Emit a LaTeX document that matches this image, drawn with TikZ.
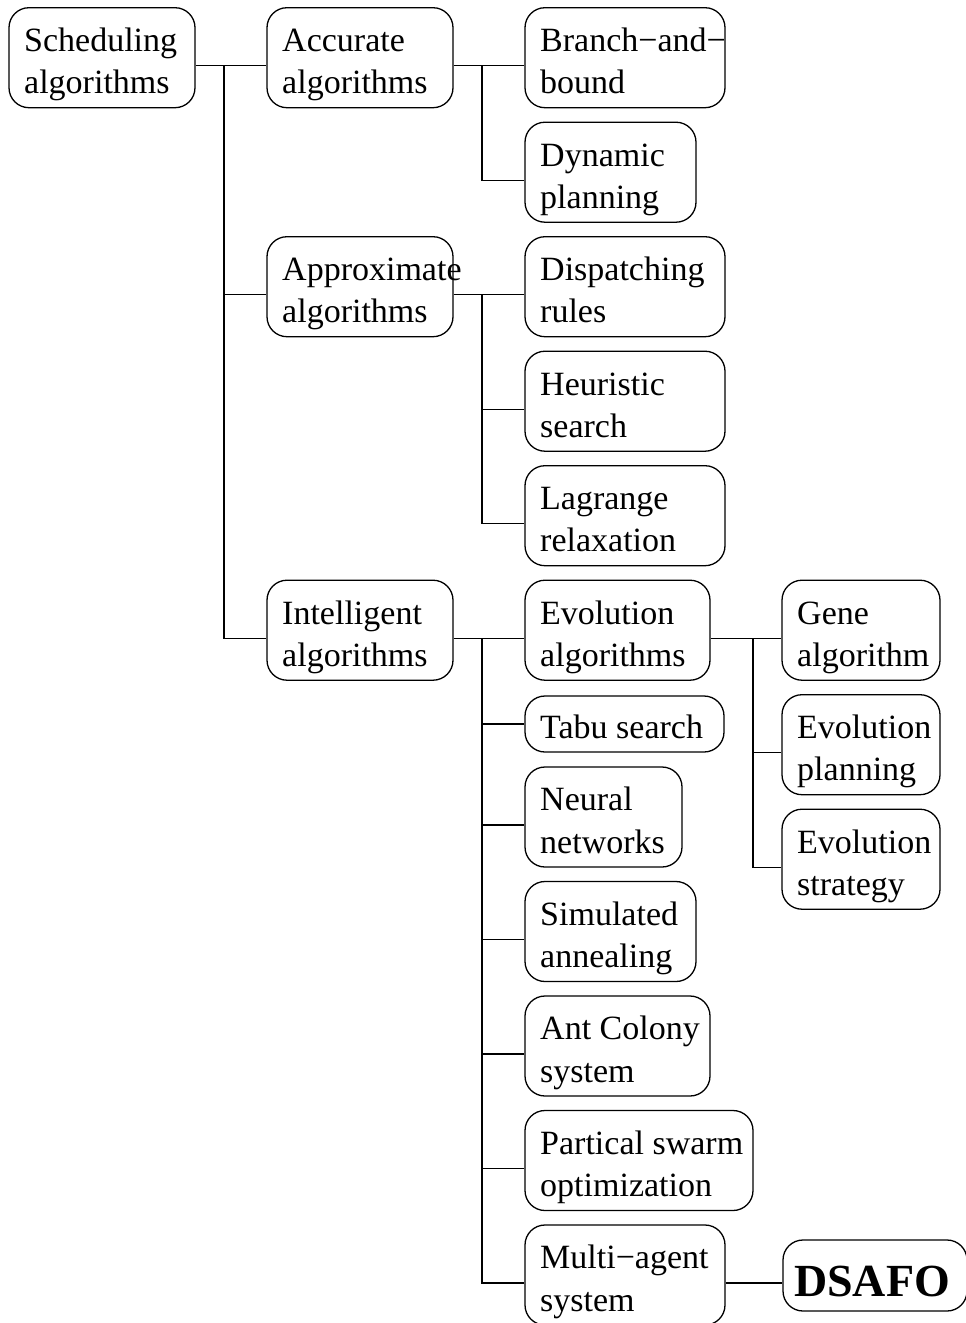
\documentclass[tikz,border=0pt]{standalone}
\usepackage{fontspec}
\setmainfont{Liberation Serif}
\usetikzlibrary{calc}
% strut for the two-line labels: lines sit 42.4pt apart
\newcommand\lstrut{\rule[-14.2pt]{0pt}{42.4pt}}
\begin{document}
\begin{tikzpicture}[x=1pt,y=-1pt,
  box/.style={draw, line width=1.3pt, rounded corners=20pt, inner sep=0pt, minimum height=100pt},
  lbl/.style={anchor=west, align=left, inner sep=0pt, font=\fontsize{34}{42.4}\selectfont},
  link/.style={line width=1.3pt},
]
\useasboundingbox (0,0) rectangle (966,1323);

% trunk positions of the three branching levels
\coordinate (trunkA) at (224,0);
\coordinate (trunkB) at (482,0);
\coordinate (trunkC) at (753,0);

% level 0
\node[box, minimum width=186pt] (sched) at (102,57.7) {};
\node[lbl] (schedT) at (24,65.7) {\lstrut Scheduling\\\lstrut algorithms};

% level 1
\node[box, minimum width=186pt] (acc) at (360,57.7) {};
\node[lbl] (accT) at (282,65.7) {\lstrut Accurate\\\lstrut algorithms};
\node[box, minimum width=186pt] (approx) at (360,286.7) {};
\node[lbl] (approxT) at (282,294.7) {\lstrut Approximate\\\lstrut algorithms};
\node[box, minimum width=186pt] (intel) at (360,630.2) {};
\node[lbl] (intelT) at (282,638.2) {\lstrut Intelligent\\\lstrut algorithms};

% level 2: accurate
\node[box, minimum width=200pt] (bnb) at (625,57.7) {};
\node[lbl] (bnbT) at (540,65.7) {\lstrut Branch−and−\\\lstrut bound};
\node[box, minimum width=171pt] (dyn) at (610.5,172.2) {};
\node[lbl] (dynT) at (540,180.2) {\lstrut Dynamic\\\lstrut planning};

% level 2: approximate
\node[box, minimum width=200pt] (disp) at (625,286.7) {};
\node[lbl] (dispT) at (540,294.7) {\lstrut Dispatching\\\lstrut rules};
\node[box, minimum width=200pt] (heur) at (625,401.2) {};
\node[lbl] (heurT) at (540,409.2) {\lstrut Heuristic\\\lstrut search};
\node[box, minimum width=200pt] (lag) at (625,515.7) {};
\node[lbl] (lagT) at (540,523.7) {\lstrut Lagrange\\\lstrut relaxation};

% level 2: intelligent
\node[box, minimum width=185pt] (evo) at (617.5,630.2) {};
\node[lbl] (evoT) at (540,638.2) {\lstrut Evolution\\\lstrut algorithms};
\node[box, minimum width=199pt, minimum height=56pt] (tabu) at (624.5,724) {};
\node[lbl] (tabuT) at (540,724) {\rule{0pt}{30pt}Tabu search};
\node[box, minimum width=157pt] (neural) at (603.5,817) {};
\node[lbl] (neuralT) at (540,825) {\lstrut Neural\\\lstrut networks};
\node[box, minimum width=171pt] (sim) at (610.5,931.5) {};
\node[lbl] (simT) at (540,939.5) {\lstrut Simulated\\\lstrut annealing};
\node[box, minimum width=185pt] (ant) at (617.5,1046) {};
\node[lbl] (antT) at (540,1054) {\lstrut Ant Colony\\\lstrut system};
\node[box, minimum width=228pt] (pso) at (639,1160.5) {};
\node[lbl] (psoT) at (540,1168.5) {\lstrut Partical swarm\\\lstrut optimization};
\node[box, minimum width=200pt] (mas) at (625,1275) {};
\node[lbl] (masT) at (540,1283) {\lstrut Multi−agent\\\lstrut system};

% level 3: evolution algorithms
\node[box, minimum width=158pt] (gene) at (861,630.2) {};
\node[lbl] (geneT) at (797,638.2) {\lstrut Gene\\\lstrut algorithm};
\node[box, minimum width=158pt] (evp) at (861,744.7) {};
\node[lbl] (evpT) at (797,752.7) {\lstrut Evolution\\\lstrut planning};
\node[box, minimum width=158pt] (evs) at (861,859.2) {};
\node[lbl] (evsT) at (797,867.2) {\lstrut Evolution\\\lstrut strategy};

% the proposed method
\node[box, minimum width=184pt, minimum height=71pt] (dsafo) at (875,1275.5) {};
\node[inner sep=0pt, font=\fontsize{46}{55}\selectfont\bfseries] (dsafoT) at (872,1281) {DSAFO};

% connectors: scheduling algorithms
\draw[link] (schedT -| sched.east) -- (schedT -| trunkA) |- (accT -| acc.west);
\draw[link] (schedT -| trunkA) |- (approxT -| approx.west);
\draw[link] (schedT -| trunkA) |- (intelT -| intel.west);

% accurate algorithms
\draw[link] (accT -| acc.east) -- (accT -| trunkB) |- (bnbT -| bnb.west);
\draw[link] (accT -| trunkB) |- (dynT -| dyn.west);

% approximate algorithms
\draw[link] (approxT -| approx.east) -- (approxT -| trunkB) |- (dispT -| disp.west);
\draw[link] (approxT -| trunkB) |- (heurT -| heur.west);
\draw[link] (approxT -| trunkB) |- (lagT -| lag.west);

% intelligent algorithms
\draw[link] (intelT -| intel.east) -- (intelT -| trunkB) |- (evoT -| evo.west);
\draw[link] (intelT -| trunkB) |- (tabuT -| tabu.west);
\draw[link] (intelT -| trunkB) |- (neuralT -| neural.west);
\draw[link] (intelT -| trunkB) |- (simT -| sim.west);
\draw[link] (intelT -| trunkB) |- (antT -| ant.west);
\draw[link] (intelT -| trunkB) |- (psoT -| pso.west);
\draw[link] (intelT -| trunkB) |- (masT -| mas.west);

% evolution algorithms
\draw[link] (evoT -| evo.east) -- (evoT -| trunkC) |- (geneT -| gene.west);
\draw[link] (evoT -| trunkC) |- (evpT -| evp.west);
\draw[link] (evoT -| trunkC) |- (evsT -| evs.west);

% multi-agent system to DSAFO
\draw[link] (masT -| mas.east) -- (masT -| dsafo.west);
\end{tikzpicture}
\end{document}
